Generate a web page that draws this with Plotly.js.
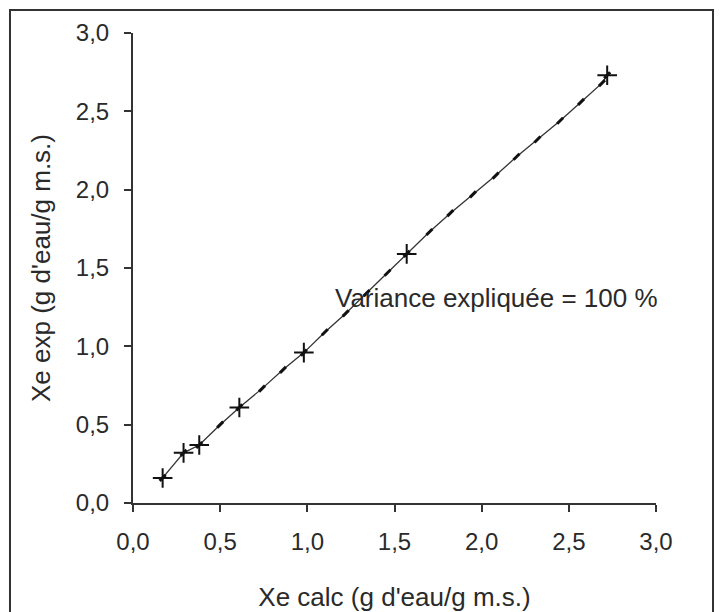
<!DOCTYPE html>
<html>
<head>
<meta charset="utf-8">
<script src="https://cdn.plot.ly/plotly-3.0.1.min.js"></script>
<style>html,body{margin:0;padding:0;background:#fff;}#chart{width:720px;height:612px;}</style>
</head>
<body>
<div id="chart"></div>
<script>
// Xe calc vs Xe exp (g d'eau/g m.s.)
const xeCalc = [0.17, 0.29, 0.38, 0.50, 0.61, 0.74, 0.86, 0.98, 1.10, 1.22, 1.34, 1.46, 1.57, 1.70, 1.82, 1.95, 2.08, 2.20, 2.32, 2.45, 2.57, 2.69, 2.72];
const xeExp  = [0.16, 0.32, 0.37, 0.50, 0.61, 0.73, 0.85, 0.96, 1.09, 1.21, 1.34, 1.47, 1.59, 1.73, 1.85, 1.97, 2.09, 2.21, 2.32, 2.44, 2.56, 2.68, 2.73];
// experimental points drawn as large crosses
const crossCalc = [0.17, 0.29, 0.38, 0.61, 0.98, 1.57, 2.72];
const crossExp  = [0.16, 0.32, 0.37, 0.61, 0.96, 1.59, 2.73];
const tickVals = [0, 0.5, 1.0, 1.5, 2.0, 2.5, 3.0];
const tickText = ['0,0', '0,5', '1,0', '1,5', '2,0', '2,5', '3,0'];
const noteText = 'Variance expliquée = 100 %';
const xTitle = "Xe calc (g d'eau/g m.s.)";
const yTitle = "Xe exp (g d'eau/g m.s.)";

const fontFam = 'Liberation Sans, Arial, sans-serif';
const txtColor = '#2a2a2a';
const traces = [
  {
    x: xeCalc, y: xeExp, type: 'scatter', mode: 'lines+markers',
    line: {color: '#333', width: 1.3},
    marker: {symbol: 'line-ne', size: 6, line: {color: '#111', width: 3}},
    hoverinfo: 'skip', showlegend: false
  },
  {
    x: crossCalc, y: crossExp, type: 'scatter', mode: 'markers',
    marker: {symbol: 'cross-thin', size: 14, line: {color: '#111', width: 2}},
    hoverinfo: 'skip', showlegend: false
  }
];

const axisCommon = {
  range: [0, 3], tickvals: tickVals, ticktext: tickText,
  ticks: 'outside', ticklen: 7, tickwidth: 2, tickcolor: '#333',
  showline: true, linewidth: 2, linecolor: '#333',
  showgrid: false, zeroline: false, automargin: false,
  tickfont: {family: fontFam, size: 24, color: txtColor}
};

const layout = {
  width: 720, height: 612,
  margin: {l: 133, r: 64, t: 33, b: 109},
  paper_bgcolor: '#fff', plot_bgcolor: '#fff',
  showlegend: false,
  xaxis: Object.assign({}, axisCommon, {
    ticklabelstandoff: 9,
    title: {text: xTitle, font: {family: fontFam, size: 26, color: txtColor}, standoff: 36}
  }),
  yaxis: Object.assign({}, axisCommon, {
    ticklabelstandoff: 10,
    title: {text: yTitle, font: {family: fontFam, size: 26, color: txtColor}, standoff: 18}
  }),
  annotations: [{
    x: 1.15, y: 1.31, xref: 'x', yref: 'y', xanchor: 'left', yanchor: 'middle',
    text: noteText, showarrow: false,
    font: {family: fontFam, size: 26, color: txtColor}
  }],
  shapes: [{
    type: 'rect', xref: 'paper', yref: 'paper',
    x0: -0.2352, x1: 1.109, y0: -0.25, y1: 1.049,
    line: {color: '#333', width: 2}
  }]
};

Plotly.newPlot('chart', traces, layout, {staticPlot: true, displayModeBar: false});
</script>
</body>
</html>
